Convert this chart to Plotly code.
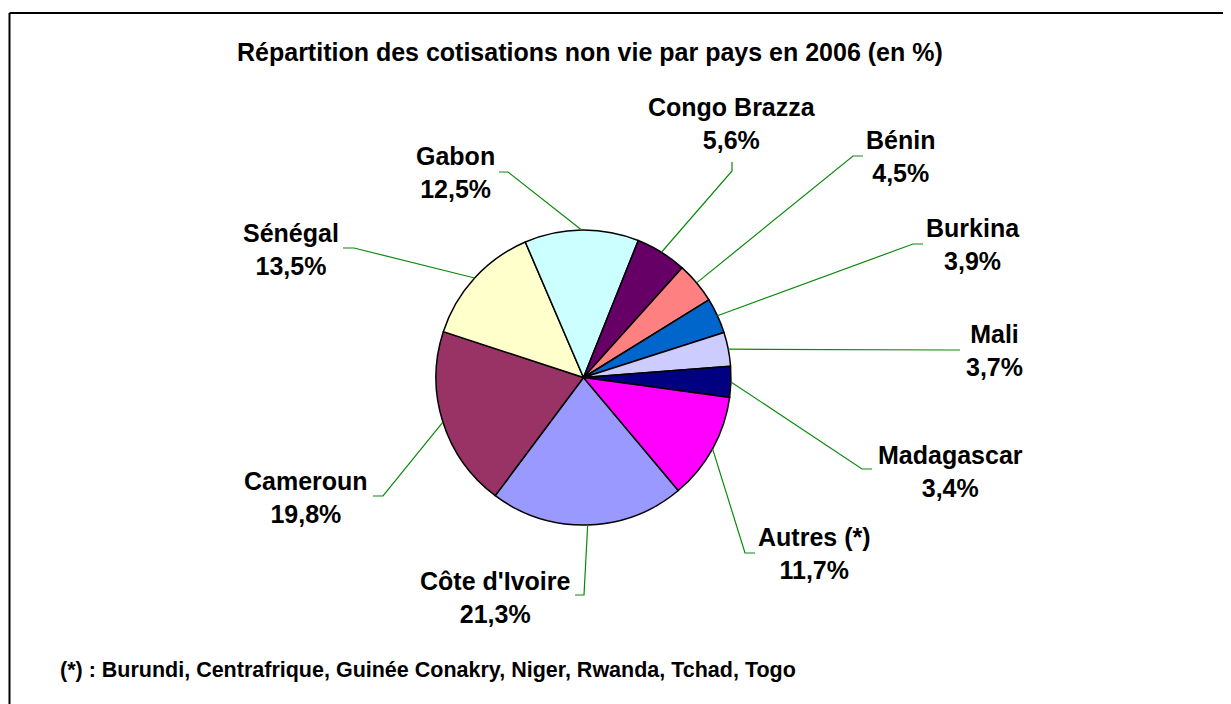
import math
import plotly.graph_objects as go

# ---- data ----
countries = ["Côte d'Ivoire", "Cameroun", "Sénégal", "Gabon", "Congo Brazza",
             "Bénin", "Burkina", "Mali", "Madagascar", "Autres (*)"]
shares = [21.3, 19.8, 13.5, 12.5, 5.6, 4.5, 3.9, 3.7, 3.4, 11.7]
share_labels = ["21,3%", "19,8%", "13,5%", "12,5%", "5,6%", "4,5%", "3,9%", "3,7%", "3,4%", "11,7%"]
colors = ["#9999FF", "#993366", "#FFFFCC", "#CCFFFF", "#660066",
          "#FF8080", "#0066CC", "#CCCCFF", "#000080", "#FF00FF"]

title_text = "Répartition des cotisations non vie par pays en 2006 (en %)"
footnote_text = "(*) : Burundi, Centrafrique, Guinée Conakry, Niger, Rwanda, Tchad, Togo"

# ---- layout (page pixels) ----
OFF = 8  # page body margin
W, H = 1231 - OFF, 704 - OFF
CX, CY, R = 583.5, 377.5, 147.5
ROTATION = 140
# label centres and leader-line elbow / end points per slice
label_pos = [(495, 597), (306, 498), (291, 249), (455, 173), (732, 124),
             (900, 157), (973, 245), (994, 350), (950, 471), (814, 553)]
leader_elbow = [(584, 595), (383, 496), (354, 248), (508, 172), (732, 171),
                (853, 156), (913, 244), (950, 350), (862, 469), (745, 553)]
leader_end = [(575, 595), (373, 496), (343, 248), (499, 172), (732, 162),
              (863, 156), (923, 244), (960, 350), (872, 469), (755, 553)]

def px(x, y):
    return (x - OFF) / W, 1 - (y - OFF) / H

FONT = "Arial, Liberation Sans, sans-serif"

(dx0, dy1), (dx1, dy0) = px(CX - R, CY - R), px(CX + R, CY + R)

fig = go.Figure()
fig.add_trace(go.Pie(
    labels=countries, values=shares, sort=False, direction="clockwise",
    rotation=ROTATION, textinfo="none", hoverinfo="label+percent",
    marker=dict(colors=colors, line=dict(color="black", width=1.5)),
    domain=dict(x=[dx0, dx1], y=[dy0, dy1]),
    showlegend=False,
))

total = sum(shares)
shapes = []
annotations = []
cum = 0.0
for i, v in enumerate(shares):
    mid = math.radians(ROTATION + (cum + v / 2) / total * 360)
    cum += v
    ex, ey = CX + R * math.sin(mid), CY - R * math.cos(mid)
    pts = [px(ex, ey), px(*leader_elbow[i]), px(*leader_end[i])]
    path = "M {} {} L {} {} L {} {}".format(*[c for p in pts for c in p])
    shapes.append(dict(type="path", xref="paper", yref="paper", path=path,
                       line=dict(color="#0a8a0a", width=1.2)))
    lx, ly = px(*label_pos[i])
    annotations.append(dict(x=lx, y=ly, xref="paper", yref="paper",
                            text=f"{countries[i]}<br>{share_labels[i]}",
                            showarrow=False, xanchor="center", yanchor="middle",
                            align="center",
                            font=dict(family=FONT, size=25, color="black", weight="bold")))

# title and footnote
tx, ty = px(590, 52)
annotations.append(dict(x=tx, y=ty, xref="paper", yref="paper", text=title_text,
                        showarrow=False, xanchor="center", yanchor="middle",
                        font=dict(family=FONT, size=25, color="black", weight="bold")))
fx, fy = px(58, 670)
annotations.append(dict(x=fx, y=fy, xref="paper", yref="paper", text=footnote_text,
                        showarrow=False, xanchor="left", yanchor="middle",
                        font=dict(family=FONT, size=21.5, color="black", weight="bold")))

# chart frame (left and top edges visible)
x0, y0 = px(9.5, 13)
shapes.append(dict(type="line", xref="paper", yref="paper", x0=x0, y0=y0, x1=x0, y1=0,
                   line=dict(color="black", width=2)))
shapes.append(dict(type="line", xref="paper", yref="paper", x0=x0, y0=y0, x1=1, y1=y0,
                   line=dict(color="black", width=2)))

fig.update_layout(
    width=W, height=H, margin=dict(l=0, r=0, t=0, b=0),
    paper_bgcolor="white", plot_bgcolor="white",
    shapes=shapes, annotations=annotations,
)
fig.write_html("out.html")
